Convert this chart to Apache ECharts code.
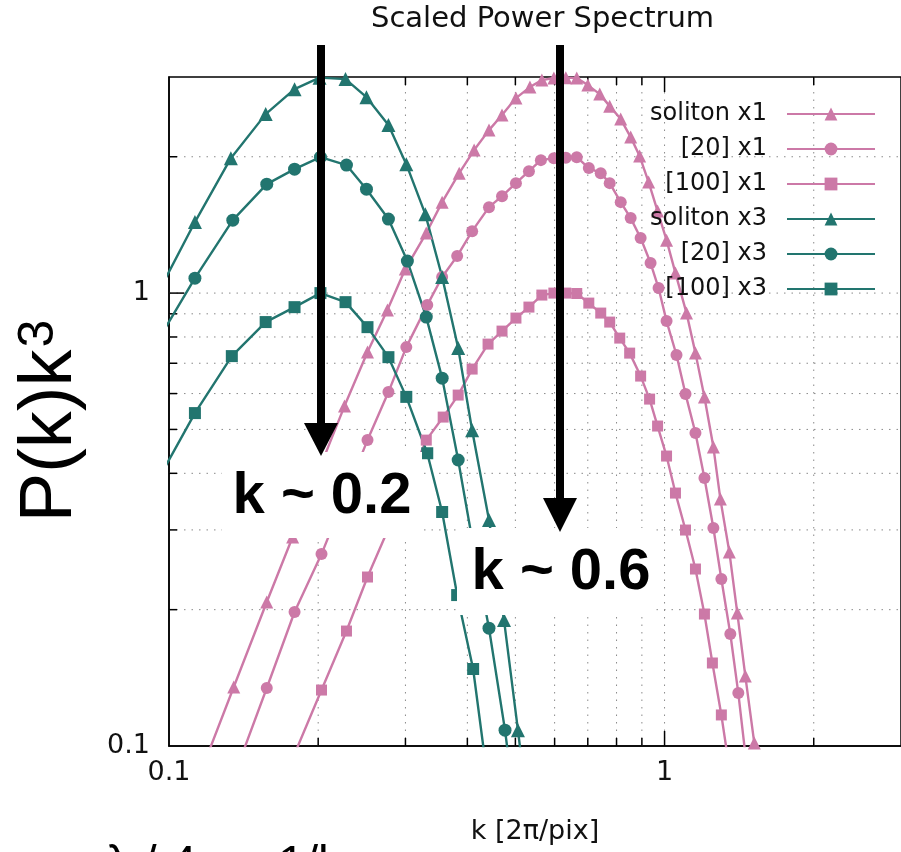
<!DOCTYPE html>
<html>
<head>
<meta charset="utf-8">
<title>Scaled Power Spectrum</title>
<script src="https://cdn.jsdelivr.net/npm/echarts@6/dist/echarts.min.js"></script>
<style>
  html, body { margin: 0; padding: 0; background: #fff; }
  #chart { width: 901px; height: 852px; }
</style>
</head>
<body>
<div id="chart"></div>
<script>
// k [2pi/pix] and P(k)k^3
var kSolX1 = [0.1181, 0.1351, 0.1575, 0.1776, 0.2003, 0.2260, 0.2515, 0.2759, 0.2998, 0.3305, 0.3558, 0.3851, 0.4128, 0.4423, 0.4699, 0.5013, 0.5350, 0.5655, 0.5979, 0.6320, 0.6650, 0.7000, 0.7399, 0.7750, 0.8157, 0.8543, 0.8906, 0.9286, 0.9681, 1.0093, 1.052, 1.1074, 1.1544, 1.2035, 1.2547, 1.2961, 1.3512, 1.4022, 1.4555, 1.5174, 1.5748];
var pSolX1 = [0.0922, 0.135, 0.2079, 0.2893, 0.4045, 0.563, 0.7409, 0.9173, 1.13, 1.357, 1.588, 1.84, 2.069, 2.29, 2.472, 2.695, 2.85, 2.953, 2.985, 2.99, 2.985, 2.879, 2.75, 2.587, 2.422, 2.21, 2.007, 1.758, 1.517, 1.309, 1.107, 0.9034, 0.737, 0.5894, 0.4571, 0.3509, 0.2682, 0.1966, 0.1427, 0.1015, 0.0722];

var k20X1 = [0.1370, 0.1575, 0.1792, 0.2031, 0.2260, 0.2515, 0.2772, 0.3012, 0.3320, 0.3558, 0.3815, 0.4090, 0.4423, 0.4699, 0.5013, 0.5325, 0.5629, 0.5979, 0.6320, 0.6650, 0.7033, 0.7434, 0.7750, 0.8157, 0.8543, 0.8948, 0.9371, 0.9725, 1.0093, 1.0570, 1.1023, 1.1544, 1.2035, 1.2547, 1.3020, 1.3575, 1.4087, 1.4622];
var p20X1 = [0.0890, 0.1343, 0.1976, 0.2653, 0.3545, 0.4736, 0.6045, 0.7598, 0.9408, 1.085, 1.207, 1.370, 1.548, 1.637, 1.749, 1.859, 1.966, 1.986, 1.99, 1.996, 1.888, 1.840, 1.749, 1.588, 1.464, 1.323, 1.165, 1.026, 0.8673, 0.7299, 0.5984, 0.4909, 0.3906, 0.3029, 0.2337, 0.1767, 0.1309, 0.0918];

var k100X1 = [0.1792, 0.2031, 0.2281, 0.2515, 0.2759, 0.3027, 0.3305, 0.3575, 0.3833, 0.4090, 0.4404, 0.4699, 0.5013, 0.5325, 0.5655, 0.5979, 0.6320, 0.6650, 0.7033, 0.7434, 0.7750, 0.8120, 0.8503, 0.8948, 0.9328, 0.9681, 1.0093, 1.052, 1.1023, 1.1544, 1.2035, 1.2489, 1.3020, 1.3575];
var p100X1 = [0.0960, 0.1329, 0.1794, 0.2361, 0.2983, 0.3788, 0.4736, 0.5324, 0.5954, 0.6796, 0.7716, 0.8243, 0.8807, 0.9313, 0.99, 1.0, 1.0, 0.998, 0.9504, 0.9034, 0.8630, 0.7955, 0.737, 0.6558, 0.5834, 0.5087, 0.4367, 0.3618, 0.2998, 0.2459, 0.1956, 0.1525, 0.1171, 0.0863];

var kSolX3 = [0.0959, 0.1128, 0.1333, 0.1567, 0.1792, 0.2013, 0.2271, 0.2503, 0.2772, 0.3012, 0.3290, 0.3558, 0.3833, 0.4090, 0.4423, 0.4743, 0.5060, 0.5400];
var pSolX3 = [1.02, 1.435, 1.986, 2.484, 2.82, 2.99, 2.968, 2.708, 2.349, 1.926, 1.494, 1.085, 0.756, 0.498, 0.3155, 0.1897, 0.1084, 0.06];

var k20X3 = [0.0959, 0.1128, 0.1345, 0.1575, 0.1792, 0.2021, 0.2281, 0.2503, 0.2772, 0.3027, 0.3305, 0.3558, 0.3833, 0.4109, 0.4423, 0.4765, 0.5083];
var p20X3 = [0.80, 1.079, 1.449, 1.740, 1.878, 1.996, 1.917, 1.696, 1.457, 1.177, 0.885, 0.649, 0.428, 0.278, 0.182, 0.1084, 0.062];

var k100X3 = [0.0959, 0.1128, 0.1339, 0.1567, 0.1792, 0.2021, 0.2271, 0.2515, 0.2772, 0.3012, 0.3320, 0.3558, 0.3815, 0.4109, 0.4423];
var p100X3 = [0.3945, 0.5433, 0.7259, 0.863, 0.931, 1.0, 0.955, 0.841, 0.722, 0.590, 0.443, 0.3286, 0.2154, 0.1479, 0.080];

var seriesNames = ['soliton x1', '[20] x1', '[100] x1', 'soliton x3', '[20] x3', '[100] x3'];
var gridValues = [0.2, 0.3, 0.4, 0.5, 0.6, 0.7, 0.8, 0.9, 1, 2];
var K_MIN = 0.1, K_MAX = 3, P_MIN = 0.1, P_MAX = 3;

var PINK = '#cc79a7';
var TEAL = '#22756f';
var FONT = '"DejaVu Sans", sans-serif';
var SLIDE_FONT = '"Liberation Sans", Arial, sans-serif';

function pairs(ks, ps) {
  return ks.map(function (k, i) { return [k, ps[i]]; });
}

function isDecade(v) {
  var l = Math.log10(v);
  return Math.abs(l - Math.round(l)) < 1e-6;
}

function lineSeries(name, ks, ps, symbol, size, color) {
  return {
    name: name,
    type: 'line',
    data: pairs(ks, ps),
    symbol: symbol,
    symbolSize: size,
    lineStyle: { color: color, width: 2.4 },
    itemStyle: { color: color },
    z: 3
  };
}

var chart = echarts.init(document.getElementById('chart'));

var option = {
  animation: false,
  backgroundColor: '#fff',
  title: {
    text: 'Scaled Power Spectrum',
    left: 366,
    top: 0,
    textStyle: { fontFamily: FONT, fontSize: 29, fontWeight: 'normal', color: '#111' }
  },
  grid: {
    left: 169, right: -2, top: 77, bottom: 106,
    show: true, borderColor: '#000', borderWidth: 1.5,
    backgroundColor: 'transparent'
  },
  legend: {
    data: seriesNames,
    orient: 'vertical',
    right: 20,
    top: 95,
    align: 'right',
    itemWidth: 88,
    itemHeight: 16,
    itemGap: 7,
    textStyle: { fontFamily: FONT, fontSize: 24, color: '#111', lineHeight: 28, padding: [0, 15, 0, 0] }
  },
  xAxis: {
    type: 'log',
    logBase: 10,
    min: K_MIN,
    max: K_MAX,
    name: 'k [2π/pix]',
    nameLocation: 'middle',
    nameGap: 72,
    nameTextStyle: { fontFamily: FONT, fontSize: 27, color: '#111' },
    axisLine: { lineStyle: { color: '#000', width: 1.5 } },
    axisTick: { show: false },
    splitLine: { show: false },
    axisLabel: {
      fontFamily: FONT, fontSize: 27, color: '#111', margin: 13,
      showMaxLabel: false,
      formatter: function (v) { return isDecade(v) ? String(+v.toPrecision(3)) : ''; }
    }
  },
  yAxis: {
    type: 'log',
    logBase: 10,
    min: P_MIN,
    max: P_MAX,
    axisLine: { lineStyle: { color: '#000', width: 1.5 } },
    axisTick: { show: false },
    splitLine: { show: false },
    axisLabel: {
      fontFamily: FONT, fontSize: 27, color: '#111', margin: 19,
      showMaxLabel: false,
      formatter: function (v) { return isDecade(v) ? String(+v.toPrecision(3)) : ''; }
    }
  },
  series: [
    // vertical dotted grid + ticks on bottom/top borders
    {
      type: 'custom',
      silent: true,
      z: 1,
      data: gridValues.map(function (v) { return [v, P_MIN]; }),
      renderItem: function (params, api) {
        var v = api.value(0);
        var b = api.coord([v, P_MIN]);
        var t = api.coord([v, P_MAX]);
        var len = isDecade(v) ? 15 : 8;
        return {
          type: 'group',
          children: [
            { type: 'line', shape: { x1: b[0], y1: b[1], x2: t[0], y2: t[1] }, style: { stroke: '#8a8a8a', lineWidth: 1, lineDash: [1.5, 6] } },
            { type: 'line', shape: { x1: b[0], y1: b[1], x2: b[0], y2: b[1] - len }, style: { stroke: '#000', lineWidth: 1.5 } },
            { type: 'line', shape: { x1: t[0], y1: t[1], x2: t[0], y2: t[1] + len }, style: { stroke: '#000', lineWidth: 1.5 } }
          ]
        };
      }
    },
    // horizontal dotted grid + ticks on left border
    {
      type: 'custom',
      silent: true,
      z: 1,
      data: gridValues.map(function (v) { return [K_MIN, v]; }),
      renderItem: function (params, api) {
        var v = api.value(1);
        var l = api.coord([K_MIN, v]);
        var r = api.coord([K_MAX, v]);
        var len = isDecade(v) ? 15 : 8;
        return {
          type: 'group',
          children: [
            { type: 'line', shape: { x1: l[0], y1: l[1], x2: r[0], y2: r[1] }, style: { stroke: '#8a8a8a', lineWidth: 1, lineDash: [1.5, 6] } },
            { type: 'line', shape: { x1: l[0], y1: l[1], x2: l[0] + len, y2: l[1] }, style: { stroke: '#000', lineWidth: 1.5 } }
          ]
        };
      }
    },
    lineSeries('soliton x1', kSolX1, pSolX1, 'triangle', 13, PINK),
    lineSeries('[20] x1', k20X1, p20X1, 'circle', 12, PINK),
    lineSeries('[100] x1', k100X1, p100X1, 'rect', 11, PINK),
    lineSeries('soliton x3', kSolX3, pSolX3, 'triangle', 14, TEAL),
    lineSeries('[20] x3', k20X3, p20X3, 'circle', 13, TEAL),
    lineSeries('[100] x3', k100X3, p100X3, 'rect', 12, TEAL)
  ],
  graphic: [
    {
      type: 'text',
      x: 48, y: 421,
      rotation: Math.PI / 2,
      z: 10,
      style: {
        text: '{a|P(k)k}{b|3}',
        align: 'center',
        verticalAlign: 'middle',
        fill: '#000',
        rich: {
          a: { fontFamily: SLIDE_FONT, fontSize: 74, lineHeight: 80, verticalAlign: 'bottom' },
          b: { fontFamily: SLIDE_FONT, fontSize: 50, lineHeight: 80, verticalAlign: 'top', padding: [6, 0, 0, 2] }
        }
      }
    },
    // annotation boxes
    { type: 'rect', z: 100, shape: { x: 222, y: 452, width: 200, height: 86 }, style: { fill: '#fff' } },
    { type: 'rect', z: 100, shape: { x: 457, y: 528, width: 198, height: 87 }, style: { fill: '#fff' } },
    { type: 'text', z: 101, x: 322, y: 497, style: { text: 'k ~ 0.2', fontFamily: SLIDE_FONT, fontWeight: 'bold', fontSize: 58, fill: '#000', align: 'center', verticalAlign: 'middle' } },
    { type: 'text', z: 101, x: 561, y: 573, style: { text: 'k ~ 0.6', fontFamily: SLIDE_FONT, fontWeight: 'bold', fontSize: 58, fill: '#000', align: 'center', verticalAlign: 'middle' } },
    // arrows
    { type: 'rect', z: 102, shape: { x: 317, y: 45, width: 8, height: 380 }, style: { fill: '#000' } },
    { type: 'polygon', z: 102, shape: { points: [[304, 423], [338, 423], [321, 456]] }, style: { fill: '#000' } },
    { type: 'rect', z: 102, shape: { x: 556, y: 45, width: 8, height: 455 }, style: { fill: '#000' } },
    { type: 'polygon', z: 102, shape: { points: [[543, 498], [577, 498], [560, 532]] }, style: { fill: '#000' } },
    // slide text cut off at the bottom edge
    { type: 'text', z: 101, x: 106, y: 842, style: { text: 'λ / 4  ~  1/k', fontFamily: SLIDE_FONT, fontSize: 48, fill: '#000', align: 'left', verticalAlign: 'top' } }
  ]
};

chart.setOption(option);
</script>
</body>
</html>
